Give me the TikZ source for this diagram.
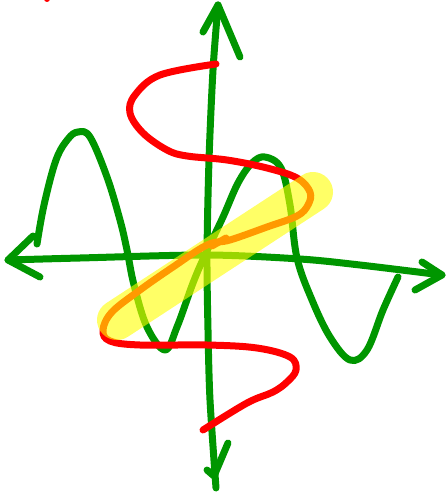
\documentclass[tikz,border=0pt]{standalone}
\definecolor{stiftgruen}{RGB}{0,150,0}
\definecolor{stiftrot}{RGB}{255,0,0}
\definecolor{marker}{RGB}{255,255,0}
\begin{document}
\begin{tikzpicture}[x=1pt,y=-1pt,
    stift/.style={line width=7pt, line cap=round, line join=round}]
    \useasboundingbox (0,0) rectangle (446,492);

    % Achsenenden
    \coordinate (O) at (207,255);
    \coordinate (L) at (8,260);
    \coordinate (R) at (442,275);
    \coordinate (T) at (218,5);
    \coordinate (B) at (216,488);

    % Achsen
    \draw[stift, stiftgruen] plot[smooth] coordinates {(L) (80,258) (O) (300,259) (360,265) (R)};
    \draw[stift, stiftgruen] plot[smooth] coordinates {(T) (213,70) (209,160) (O) (208,330) (210,400) (B)};

    % Pfeilspitzen
    \draw[stift, stiftgruen] (203,32) -- (T) -- (240,57);
    \draw[stift, stiftgruen] (207,470) -- (214,476) -- (228,443);
    \draw[stift, stiftgruen] (33,236) -- (L) -- (40,277);
    \draw[stift, stiftgruen] (422,262) -- (R) -- (415,290);

    % Welle
    \draw[stift, stiftgruen] plot[smooth, tension=0.6] coordinates {(37,244) (44,205) (56,160) (68,139) (78,132) (90,137) (107,177) (120,220) (127,250) (134,285) (147,327) (165,350) (177,327) (193,283) (205,255) (223,217) (238,183) (252,163) (265,157) (281,168) (290,205) (297,258) (312,300) (330,337) (350,360) (367,350) (383,310) (398,277)};

    % rote Kurve
    \draw[stift, stiftrot] plot[smooth, tension=0.6] coordinates {(216,64) (160,75) (135,95) (130,113) (143,133) (167,150) (187,156) (227,160) (267,168) (297,178) (310,192) (308,205) (297,216) (267,227) (230,240) (207,245) (173,267) (140,290) (112,312) (103,330) (110,341) (140,345) (207,345) (257,348) (290,357) (296,370) (287,382) (273,392) (247,403) (203,430)};
    \draw[stift, stiftrot] (212,246) -- (226,238);
    \fill[stiftrot] (47,-1) circle (3pt);

    % Markierung
    \draw[line width=40pt, line cap=round, marker, opacity=0.6] (117,320) -- (313,192);
\end{tikzpicture}
\end{document}
